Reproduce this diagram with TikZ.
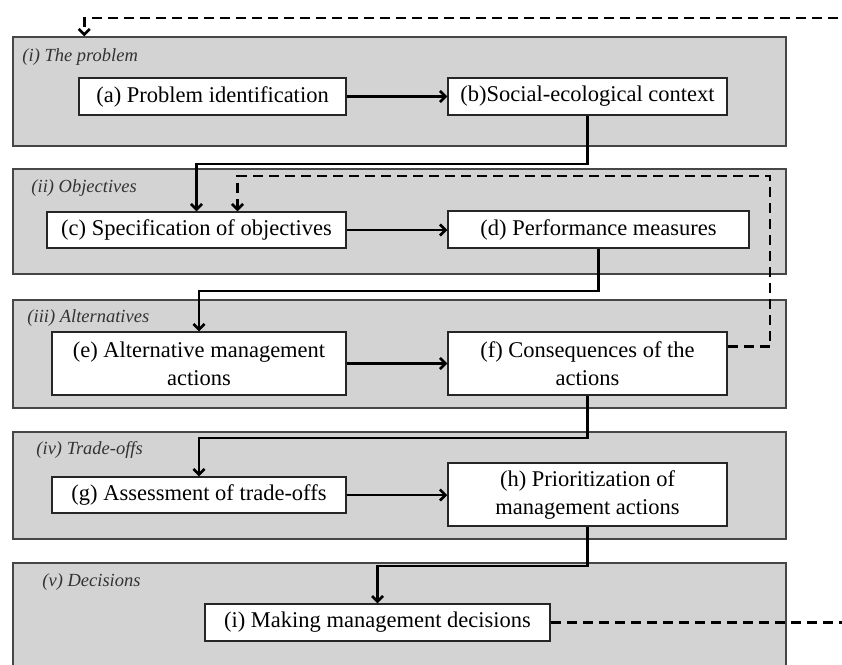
\documentclass[tikz,border=0pt]{standalone}
\usepackage{fontspec}
\setmainfont{Liberation Serif}
\usetikzlibrary{arrows.meta,positioning}

\definecolor{panelgray}{RGB}{211,211,211}
\definecolor{edgegray}{RGB}{70,70,70}

\tikzstyle{stagebox} = [draw=edgegray, fill=panelgray, line width=1.5pt,
    rectangle, inner sep=0pt, minimum width=773pt]
\tikzstyle{stagetitle} = [anchor=base west, inner sep=0pt, text=black!80,
    font=\fontsize{18.5}{20}\selectfont\itshape]
\tikzstyle{stepbox} = [draw=black!85, fill=white, line width=1.5pt,
    rectangle, inner sep=0pt, align=center, font=\fontsize{22.5}{28}\selectfont]
\tikzstyle{flow} = [draw=black, line width=2.5pt,
    -{Straight Barb[length=5.5pt,width=11pt]}]
\tikzstyle{feedback} = [flow, dash pattern=on 10pt off 6pt]

\begin{document}
\begin{tikzpicture}[x=1pt, y=-1pt]
\useasboundingbox (0,0) rectangle (842,664);

% the five stages
\node[stagebox, minimum height=109pt] (p1) at (399.5,91.5) {};
\node[stagebox, minimum height=105pt] (p2) at (399.5,221.5) {};
\node[stagebox, minimum height=108pt] (p3) at (399.5,354) {};
\node[stagebox, minimum height=107pt] (p4) at (399.5,485.5) {};
\node[stagebox, minimum height=140pt] (p5) at (399.5,633) {};

\node[stagetitle] (t1) at ([shift={(10,25)}]p1.north west) {(i) The problem};
\node[stagetitle] (t2) at ([shift={(19,24)}]p2.north west) {(ii) Objectives};
\node[stagetitle] (t3) at ([shift={(15,23)}]p3.north west) {(iii) Alternatives};
\node[stagetitle] (t4) at ([shift={(24,23)}]p4.north west) {(iv) Trade-offs};
\node[stagetitle] (t5) at ([shift={(30,24)}]p5.north west) {(v) Decisions};

% steps
\node[stepbox, minimum width=267pt, minimum height=37pt] (problem) at (212.5,96.5) {(a) Problem identification};
\node[stepbox, minimum width=279pt, minimum height=37pt] (context) at (587.5,96.5) {(b)Social-ecological context};
\node[stepbox, minimum width=299pt, minimum height=36pt] (objectives) at (196.5,230) {(c) Specification of objectives};
\node[stepbox, minimum width=301pt, minimum height=37pt] (measures) at (598.5,229.5) {(d) Performance measures};
\node[stepbox, minimum width=294pt, minimum height=63pt] (actions) at (199,363.5) {(e) Alternative management\\actions};
\node[stepbox, minimum width=279pt, minimum height=63pt] (consequences) at (587.5,363.5) {(f) Consequences of the\\actions};
\node[stepbox, minimum width=294pt, minimum height=36pt] (tradeoffs) at (199,495) {(g) Assessment of trade-offs};
\node[stepbox, minimum width=279pt, minimum height=63pt] (priorities) at (587.5,494.5) {(h) Prioritization of\\management actions};
\node[stepbox, minimum width=345pt, minimum height=37pt] (decision) at (377.5,622.5) {(i) Making management decisions};

% main flow
\draw[flow] (problem.east) -- (context.west);
\draw[flow] (context.south) -- ++(0,48) -| (objectives.north);
\draw[flow] (objectives.east) -- (objectives.east -| measures.west);
\draw[flow] (measures.south) -- ++(0,42) -| (actions.north);
\draw[flow] (actions.east) -- (consequences.west);
\draw[flow] (consequences.south) -- ++(0,42) -| (tradeoffs.north);
\draw[flow] (tradeoffs.east) -- (tradeoffs.east -| priorities.west);
\draw[flow] (priorities.south) -- ++(0,39) -| (decision.north);

% feedback loops
\coordinate (innerloop) at (770,176);
\coordinate (outerloop) at (880,18);
\draw[feedback] ([yshift=17pt]consequences.east) -| (innerloop) -| ([xshift=41pt]objectives.north);
\draw[feedback] (decision.east) -| (outerloop) -| ([xshift=72pt]p1.north west);
\end{tikzpicture}
\end{document}
